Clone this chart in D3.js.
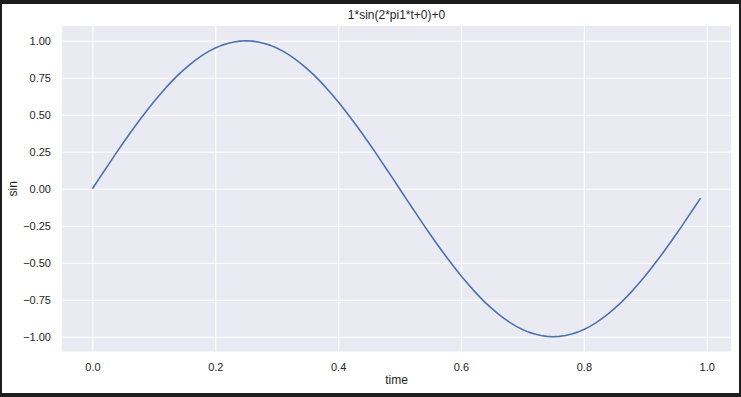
<!DOCTYPE html>
<html>
<head>
<meta charset="utf-8">
<script src="https://cdn.jsdelivr.net/npm/d3@7"></script>
<style>
  html, body { margin: 0; padding: 0; background: #1e1e1e; }
  svg { display: block; }
  text { font-family: "Liberation Sans", Arial, sans-serif; fill: #262626; }
</style>
</head>
<body>
<svg id="viz"></svg>
<script>
(function () {
  'use strict';

  const title = '1*sin(2*pi1*t+0)+0';
  const xLabel = 'time';
  const yLabel = 'sin';

  const time = [
    0.00, 0.01, 0.02, 0.03, 0.04, 0.05, 0.06, 0.07, 0.08, 0.09,
    0.10, 0.11, 0.12, 0.13, 0.14, 0.15, 0.16, 0.17, 0.18, 0.19,
    0.20, 0.21, 0.22, 0.23, 0.24, 0.25, 0.26, 0.27, 0.28, 0.29,
    0.30, 0.31, 0.32, 0.33, 0.34, 0.35, 0.36, 0.37, 0.38, 0.39,
    0.40, 0.41, 0.42, 0.43, 0.44, 0.45, 0.46, 0.47, 0.48, 0.49,
    0.50, 0.51, 0.52, 0.53, 0.54, 0.55, 0.56, 0.57, 0.58, 0.59,
    0.60, 0.61, 0.62, 0.63, 0.64, 0.65, 0.66, 0.67, 0.68, 0.69,
    0.70, 0.71, 0.72, 0.73, 0.74, 0.75, 0.76, 0.77, 0.78, 0.79,
    0.80, 0.81, 0.82, 0.83, 0.84, 0.85, 0.86, 0.87, 0.88, 0.89,
    0.90, 0.91, 0.92, 0.93, 0.94, 0.95, 0.96, 0.97, 0.98, 0.99
  ];

  const sinValues = [
    0.000, 0.063, 0.125, 0.187, 0.249, 0.309, 0.368, 0.426, 0.482, 0.536,
    0.588, 0.637, 0.685, 0.729, 0.771, 0.809, 0.844, 0.876, 0.905, 0.930,
    0.951, 0.969, 0.982, 0.992, 0.998, 1.000, 0.998, 0.992, 0.982, 0.969,
    0.951, 0.930, 0.905, 0.876, 0.844, 0.809, 0.771, 0.729, 0.685, 0.637,
    0.588, 0.536, 0.482, 0.426, 0.368, 0.309, 0.249, 0.187, 0.125, 0.063,
    0.000, -0.063, -0.125, -0.187, -0.249, -0.309, -0.368, -0.426, -0.482, -0.536,
    -0.588, -0.637, -0.685, -0.729, -0.771, -0.809, -0.844, -0.876, -0.905, -0.930,
    -0.951, -0.969, -0.982, -0.992, -0.998, -1.000, -0.998, -0.992, -0.982, -0.969,
    -0.951, -0.930, -0.905, -0.876, -0.844, -0.809, -0.771, -0.729, -0.685, -0.637,
    -0.588, -0.536, -0.482, -0.426, -0.368, -0.309, -0.249, -0.187, -0.125, -0.063
  ];

  const xTicks = [0.0, 0.2, 0.4, 0.6, 0.8, 1.0];
  const yTicks = [-1.00, -0.75, -0.50, -0.25, 0.00, 0.25, 0.50, 0.75, 1.00];

  const width = 741;
  const height = 397;

  // plot area, matched to the picture
  const plot = { left: 62, right: 731, top: 26, bottom: 351.5 };

  const svg = d3.select('#viz')
    .attr('width', width)
    .attr('height', height);

  // white figure on the dark frame
  svg.append('rect')
    .attr('x', 2).attr('y', 4)
    .attr('width', 737).attr('height', 389)
    .attr('fill', '#ffffff');

  // matplotlib style 5% margins
  const xPad = (d3.max(time) - d3.min(time)) * 0.05;
  const x = d3.scaleLinear()
    .domain([d3.min(time) - xPad, d3.max(time) + xPad])
    .range([plot.left, plot.right]);
  const yPad = (d3.max(sinValues) - d3.min(sinValues)) * 0.05;
  const y = d3.scaleLinear()
    .domain([d3.min(sinValues) - yPad, d3.max(sinValues) + yPad])
    .range([plot.bottom, plot.top]);

  svg.append('rect')
    .attr('x', plot.left).attr('y', plot.top)
    .attr('width', plot.right - plot.left)
    .attr('height', plot.bottom - plot.top)
    .attr('fill', '#eaeaf2');

  const minus = s => s.replace('-', '\u2212');

  // x axis, grid lines drawn as long ticks
  const xAxis = svg.append('g')
    .attr('transform', `translate(0,${plot.bottom})`)
    .call(d3.axisBottom(x)
      .tickValues(xTicks)
      .tickSize(-(plot.bottom - plot.top))
      .tickPadding(12)
      .tickFormat(d => minus(d3.format('.1f')(d))));

  const yAxis = svg.append('g')
    .attr('transform', `translate(${plot.left},0)`)
    .call(d3.axisLeft(y)
      .tickValues(yTicks)
      .tickSize(-(plot.right - plot.left))
      .tickPadding(11)
      .tickFormat(d => minus(d3.format('.2f')(d))));

  [xAxis, yAxis].forEach(g => {
    g.select('.domain').remove();
    g.selectAll('.tick line')
      .attr('stroke', '#ffffff')
      .attr('stroke-width', 1.1);
    g.selectAll('.tick text')
      .attr('fill', '#262626')
      .style('font-size', '11px')
      .style('font-family', '"Liberation Sans", Arial, sans-serif');
  });

  const line = d3.line()
    .x((d, i) => x(time[i]))
    .y(d => y(d));

  svg.append('path')
    .datum(sinValues)
    .attr('fill', 'none')
    .attr('stroke', '#4c72b0')
    .attr('stroke-width', 1.6)
    .attr('stroke-linejoin', 'round')
    .attr('d', line);

  svg.append('text')
    .attr('x', (plot.left + plot.right) / 2)
    .attr('y', 19)
    .attr('text-anchor', 'middle')
    .style('font-size', '12px')
    .text(title);

  svg.append('text')
    .attr('x', (plot.left + plot.right) / 2)
    .attr('y', 384)
    .attr('text-anchor', 'middle')
    .style('font-size', '12px')
    .text(xLabel);

  svg.append('text')
    .attr('transform', `translate(17,${(plot.top + plot.bottom) / 2}) rotate(-90)`)
    .attr('text-anchor', 'middle')
    .style('font-size', '12px')
    .text(yLabel);
}());
</script>
</body>
</html>
